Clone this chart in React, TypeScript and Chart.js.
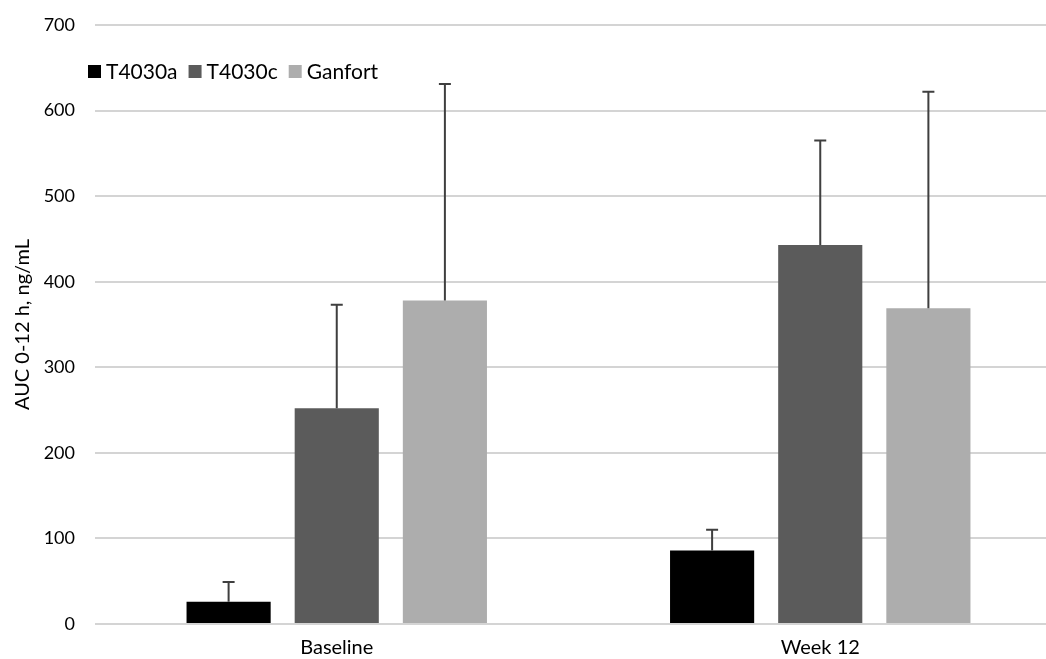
import React, { useEffect, useRef } from "react";
import { Chart, registerables } from "chart.js";

Chart.register(...registerables);

const categories = ["Baseline", "Week 12"];
const seriesNames = ["T4030a", "T4030c", "Ganfort"];
const t4030a = [26, 86];
const t4030c = [252, 443];
const ganfort = [378, 369];
const t4030aUpper = [49, 110];
const t4030cUpper = [373, 565];
const ganfortUpper = [631, 622];
const yTicks = [0, 100, 200, 300, 400, 500, 600, 700];
const yTitle = "AUC 0-12 h, ng/mL";

const colors = ["#000000", "#5b5b5b", "#adadad"];
const FONT = "Lato, 'Open Sans', sans-serif";

const errorBarPlugin = {
  id: "errorBars",
  afterDatasetsDraw(chart: any) {
    const ctx = chart.ctx;
    const y = chart.scales.y;
    chart.data.datasets.forEach((ds: any, di: number) => {
      const meta = chart.getDatasetMeta(di);
      meta.data.forEach((bar: any, i: number) => {
        const up = ds.errUpper[i];
        const x = bar.x;
        const yTop = y.getPixelForValue(up);
        const yBase = bar.y;
        ctx.save();
        ctx.strokeStyle = "#3f3f3f";
        ctx.lineWidth = 2;
        ctx.beginPath();
        ctx.moveTo(x, yBase);
        ctx.lineTo(x, yTop);
        ctx.moveTo(x - 6, yTop);
        ctx.lineTo(x + 6, yTop);
        ctx.stroke();
        ctx.restore();
      });
    });
  },
};

const legendPlugin = {
  id: "customLegend",
  afterDraw(chart: any) {
    const ctx = chart.ctx;
    ctx.save();
    ctx.font = "21px " + FONT;
    ctx.textBaseline = "middle";
    ctx.textAlign = "left";
    let x = 88;
    const yc = 72;
    chart.data.datasets.forEach((ds: any) => {
      ctx.fillStyle = ds.backgroundColor;
      ctx.fillRect(x, yc - 7, 13, 13);
      x += 18;
      ctx.fillStyle = "#000000";
      ctx.fillText(ds.label, x, yc);
      x += ctx.measureText(ds.label).width + 11;
    });
    ctx.restore();
  },
};

export default function App() {
  const ref = useRef<HTMLCanvasElement | null>(null);
  useEffect(() => {
    if (!ref.current) return;
    const values = [t4030a, t4030c, ganfort];
    const uppers = [t4030aUpper, t4030cUpper, ganfortUpper];
    const chart = new Chart(ref.current, {
      type: "bar",
      data: {
        labels: categories,
        datasets: seriesNames.map((name, i) => ({
          label: name,
          data: values[i],
          errUpper: uppers[i],
          backgroundColor: colors[i],
          borderWidth: 0,
          categoryPercentage: 0.671,
          barPercentage: 0.778,
        })) as any,
      },
      options: {
        animation: false,
        responsive: false,
        maintainAspectRatio: false,
        layout: { padding: { top: 25, right: 0, bottom: 0, left: 11 } },
        plugins: { legend: { display: false }, tooltip: { enabled: false } },
        scales: {
          x: {
            grid: { display: false, drawTicks: false },
            border: { display: false },
            ticks: { color: "#000", font: { family: FONT, size: 20 }, padding: 12 },
            afterFit(scale: any) {
              scale.height = 35;
              scale.paddingLeft = 0;
              scale.paddingRight = 0;
            },
          },
          y: {
            min: 0,
            max: 700,
            afterBuildTicks(axis: any) {
              axis.ticks = yTicks.map((v) => ({ value: v }));
            },
            afterFit(scale: any) {
              scale.width = 84;
              scale.paddingTop = 0;
              scale.paddingBottom = 0;
            },
            grid: { color: "#d4d4d4", lineWidth: 2, drawTicks: false },
            border: { display: false },
            ticks: { color: "#000", font: { family: FONT, size: 18 }, padding: 20 },
            title: {
              display: true,
              text: yTitle,
              color: "#000",
              font: { family: FONT, size: 20 },
              padding: { top: 0, bottom: 0 },
            },
          },
        },
      },
      plugins: [errorBarPlugin, legendPlugin],
    });
    return () => chart.destroy();
  }, []);
  return (
    <div style={{ position: "fixed", left: 0, top: 0, width: 1046, height: 659, overflow: "hidden", background: "#fff" }}>
      <canvas ref={ref} width={1062} height={659} style={{ display: "block" }} />
    </div>
  );
}
